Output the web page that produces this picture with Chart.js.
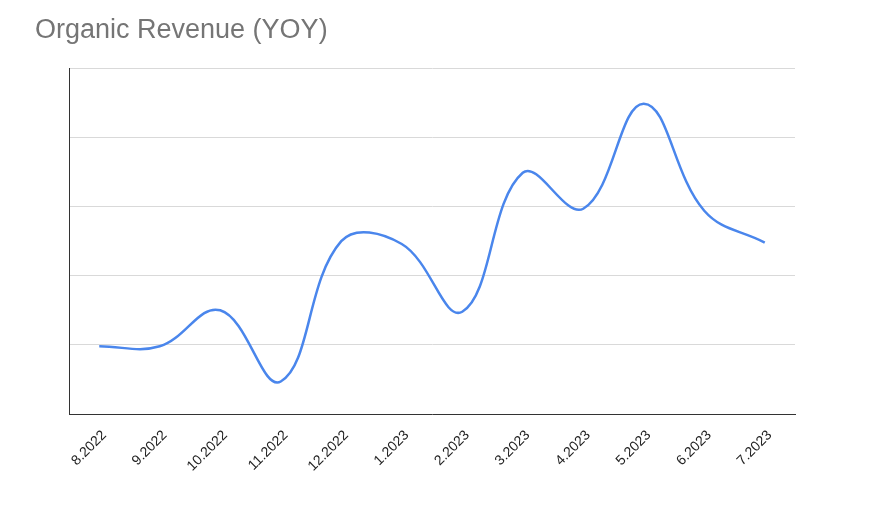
<!DOCTYPE html>
<html lang="en">
  <head>
    <meta charset="UTF-8" />
    <title>Organic Revenue (YOY)</title>
    <style type="text/css">
      body {
        margin: 0;
        padding: 0;
        background-color: #ffffff;
      }

      .wrap {
        width: 880px;
        height: 510px;
      }
    </style>
  </head>
  <body>
    <div class="wrap">
      <canvas id="revenue-chart"></canvas>
    </div>

    <script src="https://cdn.jsdelivr.net/npm/chart.js@4.4.0/dist/chart.umd.min.js"></script>

    <script type="text/javascript">
      const months = [
        "8.2022", "9.2022", "10.2022", "11.2022", "12.2022", "1.2023",
        "2.2023", "3.2023", "4.2023", "5.2023", "6.2023", "7.2023",
      ];
      const revenue = [0.98, 0.98, 1.5, 0.47, 2.5, 2.46, 1.48, 3.49, 2.97, 4.49, 2.94, 2.48];

      const font = "Arial, 'Liberation Sans', sans-serif";

      new Chart("revenue-chart", {
        type: "line",
        data: {
          labels: months,
          datasets: [
            {
              data: revenue,
              borderColor: "#4a86ec",
              borderWidth: 2.5,
              tension: 0.4,
              pointRadius: 0,
              fill: false,
            },
          ],
        },
        options: {
          responsive: true,
          maintainAspectRatio: false,
          animation: false,
          layout: { padding: { left: 35, right: 85, top: 0, bottom: 0 } },
          plugins: {
            legend: { display: false },
            tooltip: { enabled: false },
            title: {
              display: true,
              text: "Organic Revenue (YOY)",
              align: "start",
              color: "#757575",
              font: { family: font, size: 27, weight: "normal" },
              padding: { top: 14, bottom: 22 },
            },
          },
          scales: {
            x: {
              offset: true,
              grid: { display: false },
              border: { display: true, color: "#333333", width: 1 },
              ticks: {
                color: "#222222",
                font: { family: font, size: 14 },
                minRotation: 45,
                maxRotation: 45,
                padding: 5,
                labelOffset: 5,
              },
              afterFit: (scale) => {
                scale.height = 96;
              },
            },
            y: {
              min: 0,
              max: 5,
              ticks: { display: false, stepSize: 1 },
              grid: { color: "#d9d9d9", drawTicks: false },
              border: { display: true, color: "#333333", width: 1 },
              afterFit: (scale) => {
                scale.width = 34;
              },
            },
          },
        },
      });
    </script>
  </body>
</html>
